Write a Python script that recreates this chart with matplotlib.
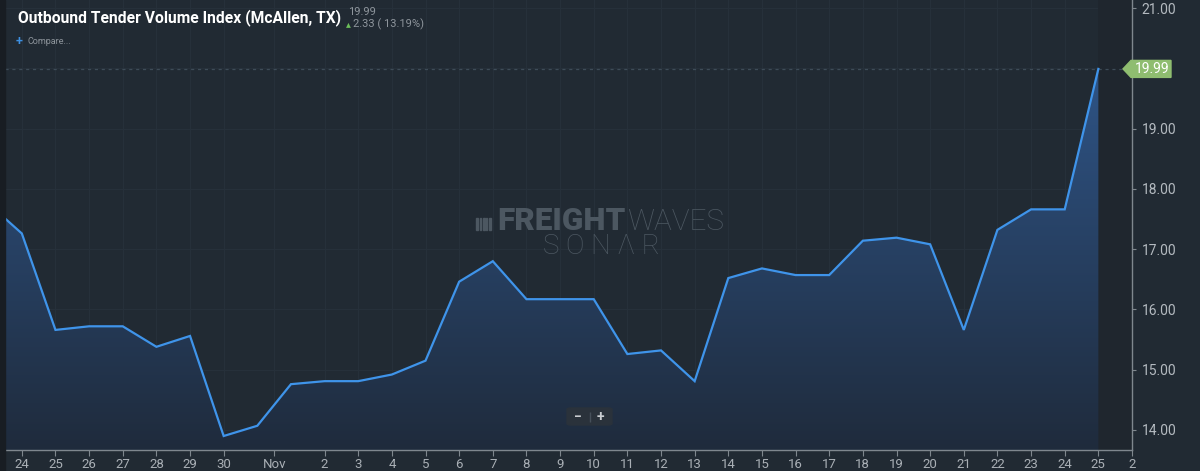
import matplotlib
matplotlib.use("Agg")
import matplotlib.pyplot as plt
import numpy as np
from matplotlib.patches import Rectangle, FancyBboxPatch, Polygon
from matplotlib.colors import LinearSegmentedColormap

# ---------------- data ----------------
title = "Outbound Tender Volume Index (McAllen, TX)"
last_value_text = "19.99"
change_text = "2.33 ( 13.19%)"
compare_text = "Compare..."
# daily values Oct 23 .. Nov 25
values = [17.76, 17.26, 15.66, 15.72, 15.72, 15.38, 15.56, 13.90, 14.07,
          14.76, 14.81, 14.81, 14.92, 15.15, 16.46, 16.80, 16.17, 16.17,
          16.17, 15.26, 15.32, 14.81, 16.52, 16.68, 16.57, 16.57, 17.14,
          17.19, 17.08, 15.66, 17.32, 17.66, 17.66, 19.99]
x_tick_pos = [0, 1, 2, 3, 4, 5, 6, 7.5, 9, 10, 11, 12, 13, 14, 15, 16, 17,
              18, 19, 20, 21, 22, 23, 24, 25, 26, 27, 28, 29, 30, 31, 32, 33]
x_tick_labels = ["24", "25", "26", "27", "28", "29", "30", "Nov", "2", "3",
                 "4", "5", "6", "7", "8", "9", "10", "11", "12", "13", "14",
                 "15", "16", "17", "18", "19", "20", "21", "22", "23", "24",
                 "25", "2"]
y_ticks = [14, 15, 16, 17, 18, 19, 20, 21]
y_tick_labels = ["14.00", "15.00", "16.00", "17.00", "18.00", "19.00", "", "21.00"]

x = np.arange(len(values)) - 1

# ---------------- style ----------------
BG = "#212a33"
W, H = 1200, 471
plt.rcParams["font.family"] = ["Roboto", "DejaVu Sans"]

fig = plt.figure(figsize=(W / 100, H / 100), dpi=100, facecolor=BG)

def fx(px):
    return px / W

def fy(py):
    return 1 - py / H

ax = fig.add_axes([fx(5), 21 / H, (1132 - 5) / W, 450 / H])
ax.set_facecolor(BG)

# grid
for t in x_tick_pos:
    ax.axvline(t, color="#26303a", lw=0.8, zorder=0)
for t in y_ticks:
    ax.axhline(t, color="#26303a", lw=0.8, zorder=0)

# darker zone right of last point
ax.axvspan(32, 33, color="#1f262e", zorder=0.5, lw=0)

# gradient fill under the line
poly = ax.fill_between(x, values, 13.0, color="none", lw=0)
cmap = LinearSegmentedColormap.from_list("g", ["#1f2b3c", "#2f568a"])
grad = np.linspace(0, 1, 256).reshape(-1, 1)
im = ax.imshow(grad, extent=[-1.5, 33.5, 13.668, 20.3], origin="lower",
               aspect="auto", cmap=cmap, zorder=1)
im.set_clip_path(poly.get_paths()[0], transform=ax.transData)
ax.set_xlim(-0.5, 33.0)
ax.set_ylim(13.668, 21.133)

ax.plot(x, values, color="#3f94ea", lw=1.6, zorder=3, solid_joinstyle="miter")

# dashed last value line
ax.axhline(values[-1], color="#3e4c58", lw=0.9, ls=(0, (2.5, 3)), zorder=2)

# axes styling
for s in ["top", "left"]:
    ax.spines[s].set_visible(False)
for s in ["bottom", "right"]:
    ax.spines[s].set_color("#7f878e")
    ax.spines[s].set_linewidth(1.0)
ax.yaxis.tick_right()
ax.set_yticks(y_ticks)
ax.set_yticklabels(y_tick_labels)
ax.set_xticks(x_tick_pos)
ax.set_xticklabels(x_tick_labels)
ax.tick_params(axis="x", colors="#7f878e", labelcolor="#aab0b6", length=4,
               width=0.8, pad=2, labelsize=9.5)
ax.tick_params(axis="y", colors="#7f878e", labelcolor="#b4bac0", length=3,
               width=0.8, pad=4, labelsize=10)
for lab in ax.get_xticklabels():
    lab.set_clip_on(False)

# left dark strip
fig.patches.append(Rectangle((0, 0), fx(5), 1, transform=fig.transFigure,
                             color="#181d23", zorder=0))

renderer = fig.canvas.get_renderer()

def fit_text(px_left, py_base, s, target_w, **kw):
    t = fig.text(fx(px_left), fy(py_base), s, va="baseline", ha="left", **kw)
    w = t.get_window_extent(renderer).width
    t.set_fontsize(t.get_fontsize() * target_w / w)
    return t

# title and header
fit_text(18, 22, title, 322, color="white", weight="bold", fontsize=13,
         family=["Liberation Sans Narrow", "Roboto", "DejaVu Sans"])
fig.text(fx(348), fy(15), last_value_text, color="#8e959c", fontsize=8,
         va="baseline", ha="left")
fig.text(fx(346), fy(27), "\u25b4", color="#6cbf5a", fontsize=7,
         va="baseline", ha="left", family="DejaVu Sans")
fig.text(fx(353), fy(27.5), change_text, color="#8e959c", fontsize=8,
         va="baseline", ha="left")
fig.text(fx(16), fy(45), "+", color="#3d8fe0", fontsize=9, weight="bold",
         va="baseline", ha="left")
fig.text(fx(28), fy(44), compare_text, color="#8e959c", fontsize=6.5,
         va="baseline", ha="left")

# watermark
wm = "#4c5761"
fit_text(497, 230, "FREIGHT", 128, color=wm, weight="black", fontsize=14)
fit_text(627, 230, "WAVES", 97, color=wm, weight="light", fontsize=14)
fit_text(543, 254, "S O N Λ R", 117, color=wm, weight="light", fontsize=14,
         family=["Roboto", "DejaVu Sans"])
for i, xp in enumerate([476, 480, 483, 486, 489]):
    fig.patches.append(Rectangle((fx(xp), fy(230)), fx(1.6 if i % 2 == 0 else 1.0),
                                 12.5 / H, transform=fig.transFigure,
                                 color=wm, zorder=1))

# zoom buttons
fig.patches.append(FancyBboxPatch((fx(567), fy(425)), fx(45), 17 / H,
                                  boxstyle="round,pad=0,rounding_size=0.003",
                                  transform=fig.transFigure, color="#2a323b",
                                  zorder=2))
fig.text(fx(578), fy(417), "\u2212", color="#c9cdd1", fontsize=10, weight="bold",
         ha="center", va="center", zorder=3)
fig.text(fx(600.5), fy(417), "+", color="#c9cdd1", fontsize=10, weight="bold",
         ha="center", va="center", zorder=3)
fig.patches.append(Rectangle((fx(589.5), fy(422)), fx(0.8), 10 / H,
                             transform=fig.transFigure, color="#46505a", zorder=3))

# last value badge
ypix = ax.transData.transform((0, values[-1]))[1]
yfrac = ypix / fig.bbox.height
hh = 8.5 / H
badge = Polygon([(fx(1123), yfrac), (fx(1131), yfrac + hh), (fx(1171), yfrac + hh),
                 (fx(1171), yfrac - hh), (fx(1131), yfrac - hh)],
                closed=True, transform=fig.transFigure, color="#8fbd70", zorder=5)
fig.patches.append(badge)
fig.text(fx(1152), yfrac, last_value_text, color="white", fontsize=10,
         ha="center", va="center", zorder=6)

fig.savefig("out.png", dpi=100, facecolor=BG)
